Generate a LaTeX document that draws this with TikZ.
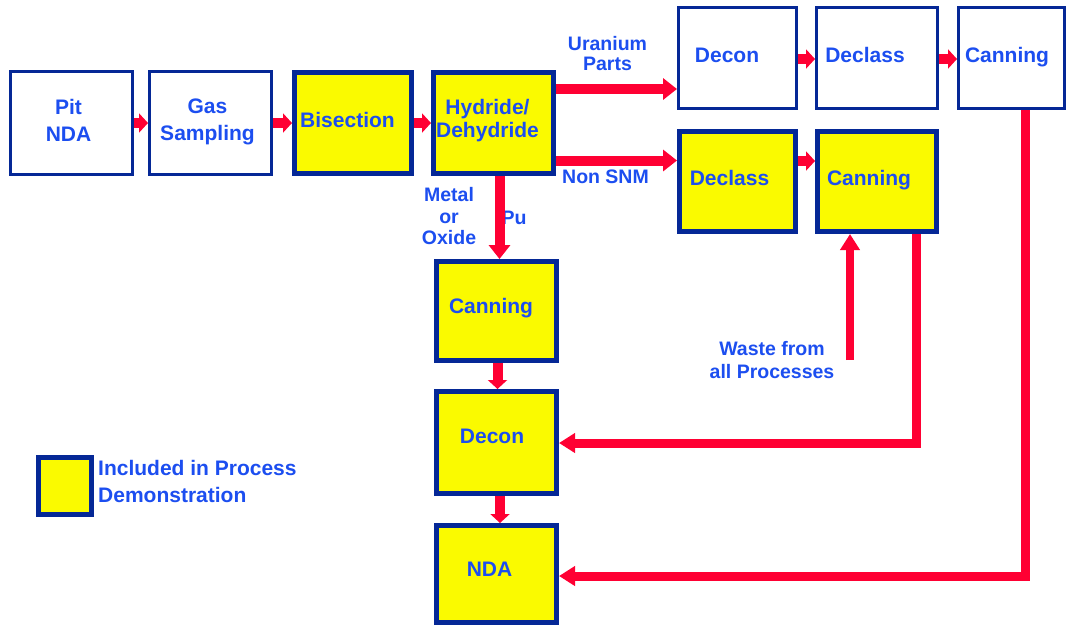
\documentclass[tikz,border=0pt]{standalone}
\usepackage{fontspec}
\setmainfont{Liberation Sans}
\usetikzlibrary{arrows.meta,calc}
\definecolor{txtblue}{RGB}{28,78,240}
\definecolor{frameblue}{RGB}{5,40,150}
\definecolor{boxyellow}{RGB}{250,250,0}
\definecolor{arrred}{RGB}{255,0,51}
\begin{document}
\begin{tikzpicture}[x=1pt,y=-1pt,
  wbox/.style={draw=frameblue,line width=3pt,fill=white,inner sep=0pt},
  ybox/.style={draw=frameblue,line width=5pt,fill=boxyellow,inner sep=0pt},
  boxtxt/.style={text=txtblue,font=\bfseries\fontsize{21}{23}\selectfont,align=center,inner sep=0pt},
  smalltxt/.style={text=txtblue,font=\bfseries\fontsize{19.5}{21}\selectfont,align=center,inner sep=0pt},
  legtxt/.style={text=txtblue,font=\bfseries\fontsize{21}{23}\selectfont,inner sep=0pt},
  arr/.style={draw=arrred,line width=10pt,-{Triangle[length=14pt,width=21pt]}},
  sarr/.style={draw=arrred,line width=10pt,-{Triangle[length=9pt,width=19pt]}},
  conn/.style={draw=arrred,line width=9pt,miter limit=10,-{Triangle[length=16pt,width=19pt]}}]
\useasboundingbox (0,0) rectangle (1067,625);
\fill[white] (0,0) rectangle (1067,625);

% boxes
\node[wbox,minimum width=122pt,minimum height=103pt] (pit) at (71.5,123) {};
\node[wbox,minimum width=122pt,minimum height=103pt] (gas) at (210.5,123) {};
\node[ybox,minimum width=117pt,minimum height=101pt] (bis) at (353,123) {};
\node[ybox,minimum width=120pt,minimum height=101pt] (hyd) at (493.5,123) {};
\node[wbox,minimum width=118pt,minimum height=101pt] (decA) at (737.5,58) {};
\node[wbox,minimum width=121pt,minimum height=101pt] (dclA) at (877,58) {};
\node[wbox,minimum width=106pt,minimum height=101pt] (canA) at (1011.5,58) {};
\node[ybox,minimum width=116pt,minimum height=100pt] (dclB) at (737.5,181.5) {};
\node[ybox,minimum width=119pt,minimum height=100pt] (canB) at (877,181.5) {};
\node[ybox,minimum width=120pt,minimum height=99pt] (canC) at (496.5,311) {};
\node[ybox,minimum width=120pt,minimum height=102pt] (decC) at (496.5,442.5) {};
\node[ybox,minimum width=120pt,minimum height=97pt] (ndaC) at (496.5,574) {};
\node[ybox,minimum width=53pt,minimum height=57pt] (leg) at (65,486) {};

% box texts
\node[boxtxt] (tpit) at (68.5,120) {Pit\\[4pt]NDA};
\node[boxtxt] (tgas) at (207.5,121.5) {Gas\\[4pt]Sampling};
\node[boxtxt,anchor=base] (tbis) at (347.5,127) {Bisection};
\node[boxtxt] (thyd) at (487.5,120.5) {Hydride/\\Dehydride};
\node[boxtxt,anchor=base] (tdecA) at (727,62) {Decon};
\node[boxtxt,anchor=base] (tdclA) at (865,62) {Declass};
\node[boxtxt,anchor=base] (tcanA) at (1007,62) {Canning};
\node[boxtxt,anchor=base] (tdclB) at (729.5,185) {Declass};
\node[boxtxt,anchor=base] (tcanB) at (869,185) {Canning};
\node[boxtxt,anchor=base] (tcanC) at (491,313) {Canning};
\node[boxtxt,anchor=base] (tdecC) at (492,443) {Decon};
\node[boxtxt,anchor=base] (tndaC) at (489.5,576) {NDA};

% labels
\node[smalltxt] (lura) at (607.5,53.5) {Uranium\\[-1pt]Parts};
\node[smalltxt,anchor=base] (lnon) at (605.5,183) {Non SNM};
\node[smalltxt] (lmet) at (449,216.5) {Metal\\[0.5pt]or\\[0.5pt]Oxide};
\node[smalltxt,anchor=base] (lpu) at (514,224) {Pu};
\node[smalltxt] (lwas) at (772,360.5) {Waste from\\[2pt]all Processes};
\node[legtxt,anchor=base west] (lleg1) at (98,475) {Included in Process};
\node[legtxt,anchor=base west] (lleg2) at (98,502) {Demonstration};

% straight arrows
\draw[sarr] (pit.east) -- (gas.west);
\draw[sarr] (gas.east) -- (bis.west);
\draw[sarr] (bis.east) -- (hyd.west);
\draw[arr] (hyd.east |- 0,89) -- (decA.west |- 0,89);
\draw[arr] (hyd.east |- 0,160.5) -- (dclB.west |- 0,160.5);
\draw[sarr] (decA.east |- 0,59) -- (dclA.west |- 0,59);
\draw[sarr] (dclA.east |- 0,59) -- (canA.west |- 0,59);
\draw[sarr] (dclB.east |- 0,161) -- (canB.west |- 0,161);
\draw[arr] (hyd.south -| 499.5,0) -- (canC.north -| 499.5,0);
\draw[sarr] (canC.south -| 497.5,0) -- (decC.north -| 497.5,0);
\draw[sarr] (decC.south -| 500,0) -- (ndaC.north -| 500,0);

% waste arrow
\coordinate (wst) at (850,360);
\draw[draw=arrred,line width=8pt,-{Triangle[length=16pt,width=19pt]}] (wst) -- (canB.south -| wst);

% return lines
\draw[conn] (canB.south -| 916.5,0) |- (decC.east |- 0,443);
\draw[conn] (canA.south -| 1025,0) |- (ndaC.east |- 0,576);
\end{tikzpicture}
\end{document}
